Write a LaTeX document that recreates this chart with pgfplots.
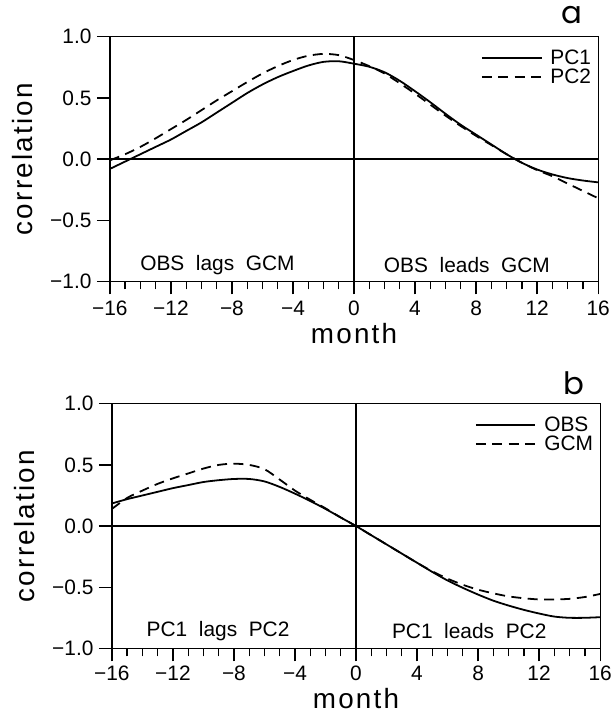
\documentclass[border=0pt]{standalone}
\usepackage{fontspec}
\setmainfont{Liberation Sans}
\newfontfamily\widefont[LetterSpace=8]{Liberation Sans}
\newfontfamily\panelfont{Poppins}
\usepackage{pgfplots}
\usepackage{pgfplotstable}
\pgfplotsset{compat=1.18}

% lag correlation of OBS with GCM principal components
\pgfplotstableread{
lag pcone pctwo
-16 -0.08 -0.01
-15 -0.02 0.04
-14 0.04 0.10
-13 0.10 0.17
-12 0.16 0.245
-11 0.23 0.32
-10 0.30 0.40
-9 0.38 0.48
-8 0.46 0.555
-7 0.54 0.63
-6 0.61 0.70
-5 0.67 0.76
-4 0.72 0.81
-3 0.765 0.845
-2 0.795 0.86
-1 0.80 0.85
0 0.78 0.81
1 0.755 0.76
2 0.71 0.70
3 0.64 0.62
4 0.555 0.535
5 0.465 0.445
6 0.37 0.355
7 0.28 0.27
8 0.20 0.19
9 0.12 0.115
10 0.04 0.04
11 -0.03 -0.03
12 -0.085 -0.09
13 -0.125 -0.14
14 -0.155 -0.20
15 -0.175 -0.26
16 -0.19 -0.32
}\lagcorrA

% lag correlation of PC1 with PC2
\pgfplotstableread{
lag obs gcm
-16 0.185 0.14
-15 0.22 0.23
-14 0.25 0.29
-13 0.28 0.345
-12 0.31 0.39
-11 0.335 0.43
-10 0.36 0.47
-9 0.375 0.50
-8 0.385 0.51
-7 0.385 0.50
-6 0.365 0.465
-5 0.32 0.38
-4 0.265 0.29
-3 0.205 0.215
-2 0.14 0.145
-1 0.07 0.07
0 0.0 0.0
1 -0.075 -0.075
2 -0.15 -0.15
3 -0.225 -0.225
4 -0.30 -0.30
5 -0.375 -0.37
6 -0.445 -0.43
7 -0.505 -0.48
8 -0.56 -0.52
9 -0.61 -0.55
10 -0.65 -0.575
11 -0.685 -0.59
12 -0.715 -0.60
13 -0.74 -0.60
14 -0.75 -0.595
15 -0.75 -0.58
16 -0.745 -0.555
}\lagcorrB

\tikzset{
  regiontext/.style={font=\fontsize{21bp}{24bp}\selectfont},
  panelletter/.style={font=\panelfont\fontsize{31bp}{34bp}\selectfont},
}

\pgfplotsset{
  corrpanel/.style={
    scale only axis, width=491bp, height=246bp,
    xmin=-16, xmax=16, ymin=-1, ymax=1,
    axis line style={line width=1.3bp},
    xtick={-16,-12,...,16},
    xticklabels={−16,−12,−8,−4,0,4,8,12,16},
    minor xtick={-15,-14,...,15},
    ytick={-1,-0.5,0,0.5,1},
    yticklabels={−1.0,−0.5,0.0,0.5,1.0},
    tick align=outside,
    xtick pos=lower, ytick pos=left,
    major tick length=13bp, minor tick length=8bp,
    tick style={line width=1.3bp, black},
    tick label style={font=\fontsize{21bp}{24bp}\selectfont},
    xticklabel style={yshift=-3bp},
    yticklabel style={xshift=-2bp},
    label style={font=\widefont\fontsize{28bp}{32bp}\selectfont, inner sep=1bp},
    xlabel style={at={(rel axis cs:0.5,0)}, anchor=center, yshift=-52bp},
    ylabel style={at={(axis description cs:-0.178,0.5)}, anchor=center},
    xlabel=month, ylabel=correlation,
    legend style={draw=none, fill=none, at={(rel axis cs:1,1)}, anchor=north east,
      xshift=-5bp, yshift=-11bp, font=\fontsize{21bp}{23bp}\selectfont,
      row sep=-1bp, inner sep=0pt, cells={anchor=west}},
    legend image code/.code={\draw[#1] (0bp,0bp) -- (60bp,0bp); \path (66bp,0bp);},
  },
  solidcurve/.style={black, line width=1.8bp, smooth},
  dashedcurve/.style={black, line width=1.8bp, smooth, dash pattern=on 10bp off 6.5bp},
}

\begin{document}
\begin{tikzpicture}
\begin{axis}[corrpanel, name=top, at={(0bp,0bp)}, anchor=south west]
  \draw[line width=1.3bp] (axis cs:-16,0) -- (axis cs:16,0);
  \draw[line width=1.3bp] (axis cs:0,-1) -- (axis cs:0,1);
  \addplot[solidcurve] table[x=lag, y=pcone] {\lagcorrA};
  \addlegendentry{PC1}
  \addplot[dashedcurve] table[x=lag, y=pctwo] {\lagcorrA};
  \addlegendentry{PC2}
  \node[regiontext] at (axis cs:-8.95,-0.865) {OBS\ \ lags\ \ GCM};
  \node[regiontext] at (axis cs:7.4,-0.865) {OBS\ \ leads\ \ GCM};
\end{axis}
\node[panelletter] at ([shift={(-26.5bp,22bp)}]top.north east) {a};

\begin{axis}[corrpanel, name=bottom, at={(2bp,-369bp)}, anchor=south west,
  xticklabel style={yshift=1.5bp}, xlabel style={yshift=1.5bp}]
  \draw[line width=1.3bp] (axis cs:-16,0) -- (axis cs:16,0);
  \draw[line width=1.3bp] (axis cs:0,-1) -- (axis cs:0,1);
  \addplot[solidcurve] table[x=lag, y=obs] {\lagcorrB};
  \addlegendentry{OBS}
  \addplot[dashedcurve] table[x=lag, y=gcm] {\lagcorrB};
  \addlegendentry{GCM}
  \node[regiontext] at (axis cs:-9.04,-0.855) {PC1\ \ lags\ \ PC2};
  \node[regiontext] at (axis cs:7.42,-0.855) {PC1\ \ leads\ \ PC2};
\end{axis}
\node[panelletter] at ([shift={(-26bp,21bp)}]bottom.north east) {b};

\pgfresetboundingbox
\path[use as bounding box] (-110.5bp,-437bp) rectangle (504.5bp,283bp);
\end{tikzpicture}
\end{document}
